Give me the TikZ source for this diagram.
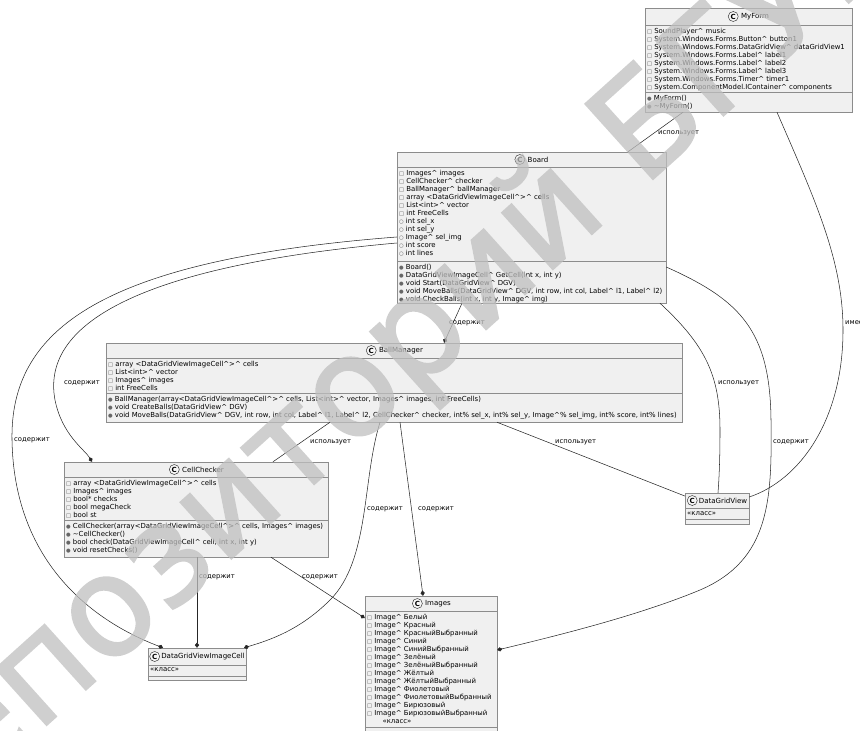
\documentclass[tikz,border=0pt]{standalone}
\usepackage{fontspec}
\setmainfont{DejaVu Sans}
\newfontfamily\wmfont{DejaVu Sans}[FakeBold=1.6]
\usetikzlibrary{arrows.meta,positioning,fit}

\newcommand\crt{\textasciicircum}
\newcommand\fpriv{{\fontsize{4.5}{4.5}\selectfont\color{black!70}□}\hspace{1.8pt}}
\newcommand\fpub{{\fontsize{4.5}{4.5}\selectfont\color{black!70}○}\hspace{1.8pt}}
\newcommand\mpub{{\fontsize{4.5}{4.5}\selectfont\color{black!60}●}\hspace{1.8pt}}

\tikzset{
  cls/.style={draw=black!45, fill=black!6, inner sep=0pt},
  sep/.style={draw=black!45},
  spot/.style={circle, draw=black!80, fill=black!3, inner sep=0pt, minimum size=3mm,
    font=\fontsize{6}{6}\selectfont\bfseries},
  ttl/.style={inner sep=0pt, font=\fontsize{6}{7}\selectfont},
  mem/.style={anchor=north west, inner sep=0pt, align=left, font=\fontsize{5.9}{6.8}\selectfont},
  rel/.style={draw=black!85, line width=0.45pt},
  comp/.style={rel, -{Diamond[length=4.5pt,width=3.6pt]}},
  lbl/.style={anchor=west, inner sep=0pt, font=\fontsize{5.8}{6}\selectfont},
}

\begin{document}
\begin{tikzpicture}[x=0.3mm, y=-0.3mm]
 \useasboundingbox (0,0) rectangle (860,731);

 % MyForm
 \node[cls, fit={(645,8) (852,112)}] (myform) {};
 \draw[sep] (myform.west |- 0,25) -- (myform.east |- 0,25);
 \draw[sep] (myform.west |- 0,92) -- (myform.east |- 0,92);
 \node[ttl] (myformname) at (755,16.5) {MyForm};
 \node[spot, left=2pt of myformname] (myformspot) {C};
 \node[mem] (myformattr) at (647,28) {\fpriv SoundPlayer\crt{} music\\
   \fpriv System.Windows.Forms.Button\crt{} button1\\
   \fpriv System.Windows.Forms.DataGridView\crt{} dataGridView1\\
   \fpriv System.Windows.Forms.Label\crt{} label1\\
   \fpriv System.Windows.Forms.Label\crt{} label2\\
   \fpriv System.Windows.Forms.Label\crt{} label3\\
   \fpriv System.Windows.Forms.Timer\crt{} timer1\\
   \fpriv System.ComponentModel.IContainer\crt{} components};
 \node[mem] (myformops) at (647,95) {\mpub MyForm()\\
   \mpub \textasciitilde MyForm()};

 % Board
 \node[cls, fit={(397,152) (666,303)}] (board) {};
 \draw[sep] (board.west |- 0,167) -- (board.east |- 0,167);
 \draw[sep] (board.west |- 0,261) -- (board.east |- 0,261);
 \node[ttl] (boardname) at (538,159.5) {Board};
 \node[spot, left=2pt of boardname] (boardspot) {C};
 \node[mem] (boardattr) at (399,170) {\fpriv Images\crt{} images\\
   \fpriv CellChecker\crt{} checker\\
   \fpriv BallManager\crt{} ballManager\\
   \fpriv array <DataGridViewImageCell\crt{}>\crt{} cells\\
   \fpriv List<int>\crt{} vector\\
   \fpriv int FreeCells\\
   \fpub int sel\_x\\
   \fpub int sel\_y\\
   \fpub Image\crt{} sel\_img\\
   \fpub int score\\
   \fpub int lines};
 \node[mem] (boardops) at (399,264) {\mpub Board()\\
   \mpub DataGridViewImageCell\crt{} GetCell(int x, int y)\\
   \mpub void Start(DataGridView\crt{} DGV)\\
   \mpub void MoveBalls(DataGridView\crt{} DGV, int row, int col, Label\crt{} l1, Label\crt{} l2)\\
   \mpub void CheckBalls(int x, int y, Image\crt{} img)};

 % BallManager
 \node[cls, fit={(106,343) (682,422)}] (ballmgr) {};
 \draw[sep] (ballmgr.west |- 0,358) -- (ballmgr.east |- 0,358);
 \draw[sep] (ballmgr.west |- 0,393) -- (ballmgr.east |- 0,393);
 \node[ttl] (ballmgrname) at (401,350.5) {BallManager};
 \node[spot, left=2pt of ballmgrname] (ballmgrspot) {C};
 \node[mem] (ballmgrattr) at (108,361) {\fpriv array <DataGridViewImageCell\crt{}>\crt{} cells\\
   \fpriv List<int>\crt{} vector\\
   \fpriv Images\crt{} images\\
   \fpriv int FreeCells};
 \node[mem] (ballmgrops) at (108,396) {\mpub BallManager(array<DataGridViewImageCell\crt{}>\crt{} cells, List<int>\crt{} vector, Images\crt{} images, int FreeCells)\\
   \mpub void CreateBalls(DataGridView\crt{} DGV)\\
   \mpub void MoveBalls(DataGridView\crt{} DGV, int row, int col, Label\crt{} l1, Label\crt{} l2, CellChecker\crt{} checker, int\% sel\_x, int\% sel\_y, Image\crt{}\% sel\_img, int\% score, int\% lines)};

 % CellChecker
 \node[cls, fit={(64,462) (328,557)}] (checker) {};
 \draw[sep] (checker.west |- 0,477) -- (checker.east |- 0,477);
 \draw[sep] (checker.west |- 0,520) -- (checker.east |- 0,520);
 \node[ttl] (checkername) at (203,469.5) {CellChecker};
 \node[spot, left=2pt of checkername] (checkerspot) {C};
 \node[mem] (checkerattr) at (66,480) {\fpriv array <DataGridViewImageCell\crt{}>\crt{} cells\\
   \fpriv Images\crt{} images\\
   \fpriv bool* checks\\
   \fpriv bool megaCheck\\
   \fpriv bool st};
 \node[mem] (checkerops) at (66,523) {\mpub CellChecker(array<DataGridViewImageCell\crt{}>\crt{} cells, Images\crt{} images)\\
   \mpub \textasciitilde CellChecker()\\
   \mpub bool check(DataGridViewImageCell\crt{} cell, int x, int y)\\
   \mpub void resetChecks()};

 % DataGridView
 \node[cls, fit={(685,493) (749,524)}] (dgv) {};
 \draw[sep] (dgv.west |- 0,508) -- (dgv.east |- 0,508);
 \draw[sep] (dgv.west |- 0,519) -- (dgv.east |- 0,519);
 \node[ttl] (dgvname) at (723,500.5) {DataGridView};
 \node[spot, left=1pt of dgvname] (dgvspot) {C};
 \node[mem] (dgvattr) at (687,511) {«класс»};

 % DataGridViewImageCell
 \node[cls, fit={(148,648) (246,680)}] (dgvcell) {};
 \draw[sep] (dgvcell.west |- 0,665) -- (dgvcell.east |- 0,665);
 \draw[sep] (dgvcell.west |- 0,676) -- (dgvcell.east |- 0,676);
 \node[ttl] (dgvcellname) at (203,656.5) {DataGridViewImageCell};
 \node[spot, left=1pt of dgvcellname] (dgvcellspot) {C};
 \node[mem] (dgvcellattr) at (150,667.5) {«класс»};

 % Images
 \node[cls, fit={(365,596) (497,736)}] (images) {};
 \draw[sep] (images.west |- 0,611) -- (images.east |- 0,611);
 \draw[sep] (images.west |- 0,727) -- (images.east |- 0,727);
 \node[ttl] (imagesname) at (438,603.5) {Images};
 \node[spot, left=2pt of imagesname] (imagesspot) {C};
 \node[mem] (imagesattr) at (367,614) {\fpriv Image\crt{} Белый\\
   \fpriv Image\crt{} Красный\\
   \fpriv Image\crt{} КрасныйВыбранный\\
   \fpriv Image\crt{} Синий\\
   \fpriv Image\crt{} СинийВыбранный\\
   \fpriv Image\crt{} Зелёный\\
   \fpriv Image\crt{} ЗелёныйВыбранный\\
   \fpriv Image\crt{} Жёлтый\\
   \fpriv Image\crt{} ЖёлтыйВыбранный\\
   \fpriv Image\crt{} Фиолетовый\\
   \fpriv Image\crt{} ФиолетовыйВыбранный\\
   \fpriv Image\crt{} Бирюзовый\\
   \fpriv Image\crt{} БирюзовыйВыбранный\\
   \hspace*{4.6mm}«класс»};

 % relations
 \draw[rel] (myform.south -| 683,0) -- (board.north -| 628,0);
 \node[lbl] (usesboard) at (658,133) {использует};
 \draw[rel] (myform.south -| 777,0) .. controls (815,200) and (843,260) .. (843,330)
   .. controls (843,420) and (800,480) .. (dgv.east |- 0,497);
 \node[lbl] (hasdgv) at (845,323) {имеет};

 \draw[comp] (board.south -| 462,0) -- (ballmgr.north -| 444,0);
 \node[lbl] (hasballmgr) at (449,323) {содержит};
 \draw[comp] (board.west |- 0,243) .. controls (150,265) and (40,320) .. (55,400)
   .. controls (62,435) and (85,450) .. (checker.north -| 92,0);
 \node[lbl] (haschecker) at (64,383) {содержит};
 \draw[comp] (board.west |- 0,237) .. controls (100,260) and (10,330) .. (12,440)
   .. controls (14,560) and (90,620) .. (dgvcell.north -| 163,0);
 \node[lbl] (hascell) at (14,440) {содержит};
 \draw[rel] (board.south -| 660,0) .. controls (705,345) and (720,375) .. (720,430)
   .. controls (720,460) and (719,480) .. (dgv.north -| 718,0);
 \node[lbl] (usesdgv) at (718,383) {использует};
 \draw[comp] (board.east |- 0,267) .. controls (740,300) and (770,330) .. (771,420)
   .. controls (772,500) and (770,560) .. (700,590)
   .. controls (640,615) and (560,635) .. (images.east |- 0,650);
 \node[lbl] (hasimages) at (773,442) {содержит};

 \draw[rel] (ballmgr.south -| 330,0) -- (checker.north -| 273,0);
 \node[lbl] (useschecker) at (310,442) {использует};
 \draw[comp] (ballmgr.south -| 380,0) .. controls (362,480) and (370,560) .. (330,600)
   .. controls (300,630) and (270,640) .. (dgvcell.north -| 244,0);
 \node[lbl] (bmcell) at (367,509) {содержит};
 \draw[comp] (ballmgr.south -| 400,0) -- (images.north -| 423,0);
 \node[lbl] (bmimages) at (418,509) {содержит};
 \draw[rel] (ballmgr.south -| 497,0) -- (dgv.west |- 0,496);
 \node[lbl] (bmdgv) at (555,442) {использует};

 \draw[comp] (checker.south -| 197,0) -- (dgvcell.north -| 197,0);
 \node[lbl] (cccell) at (199,577) {содержит};
 \draw[comp] (checker.south -| 271,0) -- (images.west |- 0,618);
 \node[lbl] (ccimages) at (302,577) {содержит};

 % watermark
 \begin{scope}[transparency group, opacity=0.75]
  \node[rotate=42, anchor=base west, inner sep=0pt, text=black!25,
    font=\wmfont\fontsize{118}{118}\selectfont] (wmark) at (-88,846) {Репозиторий БГУИР};
 \end{scope}
\end{tikzpicture}
\end{document}
